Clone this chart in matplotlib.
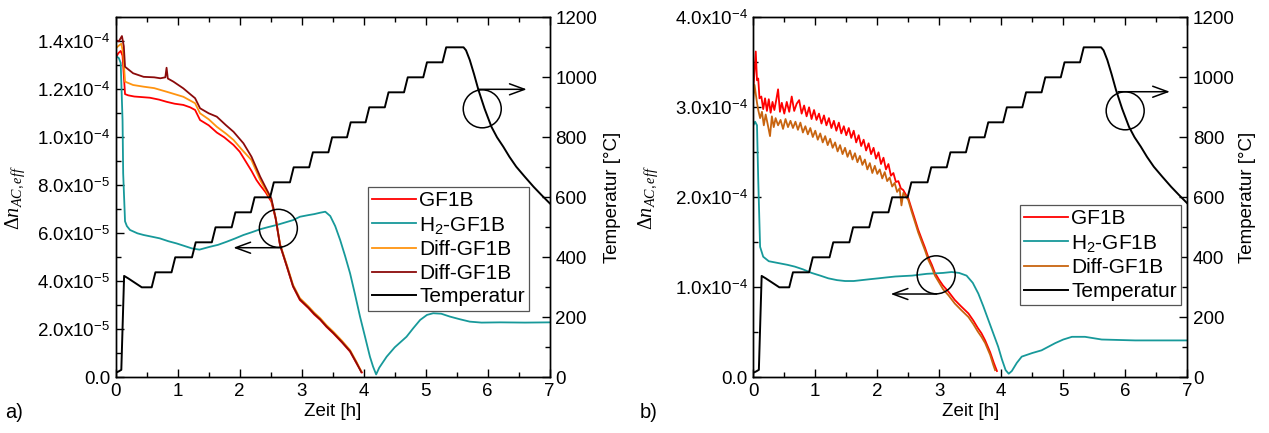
import matplotlib
matplotlib.use('Agg')
import matplotlib.pyplot as plt
from matplotlib.patches import Ellipse
from matplotlib.ticker import MultipleLocator, FixedLocator

plt.rcParams['font.family'] = ['Liberation Sans', 'DejaVu Sans']
plt.rcParams['mathtext.fontset'] = 'custom'
plt.rcParams['mathtext.rm'] = 'Liberation Sans'
plt.rcParams['mathtext.it'] = 'Liberation Serif:italic'
plt.rcParams['mathtext.bf'] = 'Liberation Sans:bold'

# ---------------- data ----------------
# temperature program (identical in both panels), hours / degC
temp_t = [0.00, 0.05, 0.09, 0.135, 0.20, 0.42, 0.58, 0.61, 0.64, 0.90, 0.93, 0.96,
          1.23, 1.26, 1.29, 1.55, 1.58, 1.61, 1.87, 1.90, 1.93, 2.18, 2.21, 2.24,
          2.49, 2.52, 2.55, 2.81, 2.84, 2.87, 3.12, 3.15, 3.18, 3.43, 3.46, 3.49,
          3.73, 3.76, 3.79, 4.03, 4.06, 4.09, 4.34, 4.37, 4.40, 4.65, 4.68, 4.71,
          4.96, 4.99, 5.02, 5.27, 5.30, 5.33, 5.61, 5.65, 5.71, 5.78, 5.85, 5.95,
          6.06, 6.15, 6.25, 6.35, 6.46, 6.60, 6.74, 6.87, 7.00]
temp_v = [15, 20, 25, 338, 330, 300, 300, 325, 350, 350, 375, 400,
          400, 425, 450, 450, 475, 500, 500, 525, 550, 550, 575, 600,
          600, 625, 650, 650, 675, 700, 700, 725, 750, 750, 775, 800,
          800, 825, 850, 850, 875, 900, 900, 925, 950, 950, 975, 1000,
          1000, 1025, 1050, 1050, 1075, 1100, 1100, 1090, 1058, 1010, 958, 895,
          835, 800, 769, 735, 702, 668, 635, 607, 580]

# panel a)
a_gf1b_t = [0.00, 0.04, 0.08, 0.11, 0.15, 0.20, 0.30, 0.45, 0.55, 0.70, 0.82, 0.95,
            1.09, 1.20, 1.28, 1.36, 1.50, 1.63, 1.75, 1.90, 2.00, 2.10, 2.19, 2.27,
            2.33, 2.42, 2.51, 2.58, 2.65, 2.76, 2.86, 2.97, 3.11, 3.20, 3.30, 3.40,
            3.51, 3.65, 3.78, 3.88, 3.97]
a_gf1b_n = [1.33e-4, 1.35e-4, 1.36e-4, 1.34e-4, 1.18e-4, 1.175e-4, 1.17e-4, 1.167e-4,
            1.165e-4, 1.157e-4, 1.148e-4, 1.14e-4, 1.135e-4, 1.125e-4, 1.114e-4, 1.072e-4,
            1.05e-4, 1.02e-4, 1.0e-4, 0.968e-4, 0.94e-4, 0.898e-4, 0.86e-4, 0.822e-4,
            0.80e-4, 0.77e-4, 0.732e-4, 0.66e-4, 0.55e-4, 0.461e-4, 0.378e-4, 0.322e-4,
            0.288e-4, 0.262e-4, 0.239e-4, 0.21e-4, 0.183e-4, 0.145e-4, 0.107e-4, 0.06e-4,
            0.02e-4]

a_h2_t = [0.00, 0.05, 0.08, 0.11, 0.12, 0.15, 0.18, 0.23, 0.35, 0.45, 0.60, 0.71,
          0.85, 0.98, 1.10, 1.23, 1.35, 1.52, 1.65, 1.79, 1.92, 2.06, 2.20, 2.33,
          2.46, 2.60, 2.73, 2.86, 2.97, 3.11, 3.20, 3.30, 3.38, 3.46, 3.54, 3.62,
          3.70, 3.78, 3.86, 3.94, 4.02, 4.10, 4.15, 4.20, 4.25, 4.37, 4.50, 4.69,
          4.80, 4.91, 5.02, 5.12, 5.25, 5.39, 5.55, 5.71, 5.90, 6.20, 6.60, 7.00]
a_h2_n = [1.34e-4, 1.33e-4, 1.31e-4, 1.07e-4, 0.85e-4, 0.65e-4, 0.63e-4, 0.614e-4,
          0.60e-4, 0.593e-4, 0.585e-4, 0.579e-4, 0.567e-4, 0.558e-4, 0.548e-4, 0.537e-4,
          0.532e-4, 0.544e-4, 0.552e-4, 0.565e-4, 0.578e-4, 0.593e-4, 0.605e-4, 0.617e-4,
          0.626e-4, 0.635e-4, 0.645e-4, 0.655e-4, 0.669e-4, 0.676e-4, 0.68e-4, 0.686e-4,
          0.69e-4, 0.672e-4, 0.63e-4, 0.572e-4, 0.505e-4, 0.433e-4, 0.345e-4, 0.253e-4,
          0.17e-4, 0.086e-4, 0.045e-4, 0.012e-4, 0.04e-4, 0.086e-4, 0.125e-4, 0.169e-4,
          0.205e-4, 0.239e-4, 0.26e-4, 0.267e-4, 0.265e-4, 0.253e-4, 0.242e-4, 0.232e-4,
          0.228e-4, 0.229e-4, 0.228e-4, 0.229e-4]

a_diff1_t = [0.00, 0.04, 0.09, 0.12, 0.15, 0.28, 0.45, 0.62, 0.82, 1.09, 1.28, 1.36,
             1.50, 1.63, 1.78, 1.90, 2.03, 2.19, 2.33, 2.42, 2.51, 2.58, 2.65, 2.76,
             2.86, 2.97, 3.11, 3.20, 3.30, 3.40, 3.51, 3.65, 3.78, 3.88, 3.96]
a_diff1_n = [1.37e-4, 1.38e-4, 1.39e-4, 1.35e-4, 1.232e-4, 1.218e-4, 1.211e-4, 1.205e-4,
             1.19e-4, 1.169e-4, 1.142e-4, 1.10e-4, 1.075e-4, 1.044e-4, 1.015e-4, 0.989e-4,
             0.95e-4, 0.905e-4, 0.822e-4, 0.78e-4, 0.739e-4, 0.665e-4, 0.555e-4, 0.468e-4,
             0.385e-4, 0.33e-4, 0.295e-4, 0.27e-4, 0.246e-4, 0.217e-4, 0.19e-4, 0.152e-4,
             0.113e-4, 0.066e-4, 0.025e-4]

a_diff2_t = [0.00, 0.05, 0.10, 0.13, 0.15, 0.28, 0.45, 0.62, 0.72, 0.80, 0.82, 0.84,
             0.93, 1.09, 1.20, 1.28, 1.36, 1.50, 1.63, 1.78, 1.90, 2.06, 2.19, 2.33,
             2.42, 2.51, 2.58, 2.65, 2.76, 2.86, 2.97, 3.11, 3.20, 3.30, 3.40, 3.51,
             3.65, 3.78, 3.88, 3.96]
a_diff2_n = [1.405e-4, 1.40e-4, 1.422e-4, 1.38e-4, 1.294e-4, 1.267e-4, 1.252e-4, 1.25e-4,
             1.246e-4, 1.25e-4, 1.29e-4, 1.245e-4, 1.232e-4, 1.204e-4, 1.18e-4, 1.163e-4,
             1.121e-4, 1.10e-4, 1.086e-4, 1.05e-4, 1.023e-4, 0.975e-4, 0.919e-4, 0.836e-4,
             0.79e-4, 0.745e-4, 0.662e-4, 0.552e-4, 0.463e-4, 0.38e-4, 0.325e-4, 0.29e-4,
             0.265e-4, 0.241e-4, 0.212e-4, 0.185e-4, 0.147e-4, 0.109e-4, 0.062e-4, 0.022e-4]

# panel b)
b_gf1b_t = [0.00, 0.02, 0.04, 0.06, 0.08, 0.10, 0.13, 0.16, 0.19, 0.22, 0.25, 0.28,
            0.31, 0.34, 0.37, 0.40, 0.43, 0.46, 0.50, 0.54, 0.58, 0.62, 0.66, 0.70,
            0.74, 0.78, 0.82, 0.86, 0.90, 0.94, 0.98, 1.02, 1.06, 1.10, 1.14, 1.18,
            1.22, 1.26, 1.30, 1.34, 1.38, 1.42, 1.46, 1.50, 1.54, 1.58, 1.62, 1.66,
            1.70, 1.74, 1.78, 1.82, 1.86, 1.90, 1.94, 1.98, 2.02, 2.06, 2.10, 2.14,
            2.18, 2.22, 2.26, 2.30, 2.34, 2.38, 2.42, 2.46, 2.50, 2.55, 2.61, 2.66,
            2.72, 2.77, 2.82, 2.88, 2.93, 3.00, 3.06, 3.15, 3.25, 3.35, 3.47, 3.55,
            3.62, 3.68, 3.74, 3.82, 3.88, 3.93]
b_gf1b_n = [3.20e-4, 3.40e-4, 3.62e-4, 3.30e-4, 3.32e-4, 3.10e-4, 3.12e-4, 2.98e-4,
            3.10e-4, 2.96e-4, 3.09e-4, 2.94e-4, 3.06e-4, 2.97e-4, 3.08e-4, 3.20e-4,
            2.95e-4, 3.05e-4, 2.93e-4, 3.06e-4, 2.95e-4, 3.12e-4, 2.96e-4, 3.04e-4,
            3.08e-4, 2.93e-4, 3.02e-4, 2.90e-4, 3.00e-4, 2.87e-4, 2.97e-4, 2.86e-4,
            2.93e-4, 2.82e-4, 2.91e-4, 2.80e-4, 2.88e-4, 2.77e-4, 2.85e-4, 2.74e-4,
            2.83e-4, 2.71e-4, 2.79e-4, 2.69e-4, 2.77e-4, 2.66e-4, 2.74e-4, 2.61e-4,
            2.69e-4, 2.57e-4, 2.64e-4, 2.52e-4, 2.60e-4, 2.48e-4, 2.55e-4, 2.43e-4,
            2.50e-4, 2.37e-4, 2.44e-4, 2.31e-4, 2.37e-4, 2.24e-4, 2.27e-4, 2.17e-4,
            2.18e-4, 2.10e-4, 2.08e-4, 2.03e-4, 1.99e-4, 1.88e-4, 1.75e-4, 1.64e-4,
            1.53e-4, 1.44e-4, 1.34e-4, 1.25e-4, 1.16e-4, 1.08e-4, 1.02e-4, 0.95e-4,
            0.86e-4, 0.79e-4, 0.71e-4, 0.63e-4, 0.55e-4, 0.49e-4, 0.41e-4, 0.28e-4,
            0.16e-4, 0.07e-4]

b_h2_t = [0.00, 0.03, 0.06, 0.08, 0.11, 0.16, 0.25, 0.40, 0.55, 0.67, 0.80, 0.94,
          1.08, 1.21, 1.35, 1.48, 1.62, 1.75, 1.88, 2.02, 2.15, 2.29, 2.42, 2.56,
          2.80, 3.06, 3.20, 3.32, 3.44, 3.54, 3.63, 3.71, 3.79, 3.87, 3.95, 4.01,
          4.07, 4.12, 4.17, 4.25, 4.33, 4.50, 4.65, 4.87, 5.00, 5.14, 5.35, 5.62,
          6.16, 6.60, 7.00]
b_h2_n = [2.80e-4, 2.84e-4, 2.80e-4, 2.19e-4, 1.45e-4, 1.34e-4, 1.29e-4, 1.27e-4,
          1.25e-4, 1.23e-4, 1.20e-4, 1.16e-4, 1.13e-4, 1.10e-4, 1.08e-4, 1.07e-4,
          1.07e-4, 1.08e-4, 1.09e-4, 1.10e-4, 1.11e-4, 1.12e-4, 1.125e-4, 1.13e-4,
          1.15e-4, 1.16e-4, 1.17e-4, 1.16e-4, 1.13e-4, 1.05e-4, 0.93e-4, 0.79e-4,
          0.64e-4, 0.49e-4, 0.34e-4, 0.20e-4, 0.08e-4, 0.04e-4, 0.07e-4, 0.16e-4,
          0.23e-4, 0.27e-4, 0.30e-4, 0.38e-4, 0.42e-4, 0.45e-4, 0.45e-4, 0.42e-4,
          0.41e-4, 0.41e-4, 0.41e-4]

b_diff_t = [0.00, 0.02, 0.04, 0.06, 0.08, 0.11, 0.14, 0.17, 0.20, 0.23, 0.27, 0.30,
            0.33, 0.36, 0.40, 0.44, 0.48, 0.52, 0.56, 0.60, 0.64, 0.68, 0.72, 0.76,
            0.80, 0.84, 0.88, 0.92, 0.96, 1.00, 1.04, 1.08, 1.12, 1.16, 1.20, 1.24,
            1.28, 1.32, 1.36, 1.40, 1.44, 1.48, 1.52, 1.56, 1.60, 1.64, 1.68, 1.72,
            1.76, 1.80, 1.84, 1.88, 1.92, 1.96, 2.00, 2.04, 2.08, 2.12, 2.16, 2.20,
            2.24, 2.28, 2.32, 2.36, 2.39, 2.42, 2.46, 2.50, 2.55, 2.61, 2.66, 2.72,
            2.77, 2.82, 2.88, 2.93, 3.00, 3.06, 3.15, 3.25, 3.35, 3.47, 3.55, 3.62,
            3.68, 3.74, 3.82, 3.87, 3.90]
b_diff_n = [3.10e-4, 3.25e-4, 3.15e-4, 3.05e-4, 2.97e-4, 2.88e-4, 2.95e-4, 2.80e-4,
            2.92e-4, 2.82e-4, 2.68e-4, 2.90e-4, 2.78e-4, 2.88e-4, 2.80e-4, 2.86e-4,
            2.76e-4, 2.87e-4, 2.78e-4, 2.85e-4, 2.77e-4, 2.84e-4, 2.75e-4, 2.83e-4,
            2.72e-4, 2.79e-4, 2.70e-4, 2.77e-4, 2.67e-4, 2.74e-4, 2.64e-4, 2.71e-4,
            2.61e-4, 2.68e-4, 2.58e-4, 2.65e-4, 2.55e-4, 2.61e-4, 2.51e-4, 2.58e-4,
            2.48e-4, 2.55e-4, 2.45e-4, 2.52e-4, 2.42e-4, 2.49e-4, 2.39e-4, 2.46e-4,
            2.36e-4, 2.42e-4, 2.31e-4, 2.38e-4, 2.27e-4, 2.35e-4, 2.26e-4, 2.31e-4,
            2.21e-4, 2.28e-4, 2.18e-4, 2.22e-4, 2.12e-4, 2.16e-4, 2.06e-4, 2.10e-4,
            1.91e-4, 2.05e-4, 2.01e-4, 1.97e-4, 1.85e-4, 1.72e-4, 1.61e-4, 1.50e-4,
            1.41e-4, 1.31e-4, 1.22e-4, 1.13e-4, 1.05e-4, 0.98e-4, 0.91e-4, 0.82e-4,
            0.75e-4, 0.67e-4, 0.59e-4, 0.51e-4, 0.45e-4, 0.38e-4, 0.25e-4, 0.14e-4,
            0.08e-4]

a_ytick_vals = [0.0, 2.0e-5, 4.0e-5, 6.0e-5, 8.0e-5, 1.0e-4, 1.2e-4, 1.4e-4]
a_ytick_labels = ['0.0', '2.0x10$^{-5}$', '4.0x10$^{-5}$', '6.0x10$^{-5}$',
                  '8.0x10$^{-5}$', '1.0x10$^{-4}$', '1.2x10$^{-4}$', '1.4x10$^{-4}$']
b_ytick_vals = [0.0, 1.0e-4, 2.0e-4, 3.0e-4, 4.0e-4]
b_ytick_labels = ['0.0', '1.0x10$^{-4}$', '2.0x10$^{-4}$', '3.0x10$^{-4}$', '4.0x10$^{-4}$']

c_red = '#ff0000'
c_teal = '#17999a'
c_orange = '#ff9410'
c_darkred = '#8b0a0a'
c_brown = '#c8640f'

FS = 13.5
LFS = 15

fig = plt.figure(figsize=(12.69, 4.33), dpi=100)


def style(ax, tax, yvals, ylabels, ymax, yminor):
    ax.set_xlim(0, 7)
    ax.set_ylim(0, ymax)
    tax.set_ylim(0, 1200)
    ax.xaxis.set_major_locator(MultipleLocator(1))
    ax.xaxis.set_minor_locator(MultipleLocator(0.5))
    ax.yaxis.set_major_locator(FixedLocator(yvals))
    ax.set_yticklabels(ylabels)
    ax.yaxis.set_minor_locator(MultipleLocator(yminor))
    tax.yaxis.set_major_locator(MultipleLocator(200))
    tax.yaxis.set_minor_locator(MultipleLocator(100))
    ax.tick_params(which='both', direction='in', top=True, right=False,
                   labelsize=FS, pad=4, width=1.0)
    ax.tick_params(which='major', length=6)
    ax.tick_params(which='minor', length=3.5)
    tax.tick_params(which='both', direction='in', labelsize=FS, pad=4, width=1.0)
    tax.tick_params(which='major', length=6)
    tax.tick_params(which='minor', length=3.5)
    for sp in list(ax.spines.values()) + list(tax.spines.values()):
        sp.set_linewidth(1.0)
    ax.set_xlabel('Zeit [h]', fontsize=FS)
    ax.xaxis.set_label_coords(0.5, -0.072)
    ax.set_ylabel('Δ$n_{AC,eff}$', fontsize=14.5, family=['Liberation Serif'])
    tax.set_ylabel('Temperatur [°C]', fontsize=FS)


def circle_arrow(ax, cx, cy, ax0, ax1, ay):
    w = 38.0 / 434.0
    h = 38.0 / 360.0
    ax.add_patch(Ellipse((cx, cy), w, h, transform=ax.transAxes, fill=False,
                         edgecolor='black', lw=1.1, zorder=6))
    ax.annotate('', xy=(ax1, ay), xytext=(ax0, ay), xycoords='axes fraction',
                textcoords='axes fraction',
                arrowprops=dict(arrowstyle='->,head_length=0.6,head_width=0.22',
                                lw=1.1, color='black', shrinkA=0, shrinkB=0,
                                mutation_scale=18), zorder=6)


def add_legend(tax, handles, x0, y0):
    leg = tax.legend(handles=handles, loc='upper left',
                     bbox_to_anchor=(x0, y0), fontsize=LFS, frameon=True,
                     fancybox=False, edgecolor='#555555', framealpha=1,
                     handlelength=2.1, handletextpad=0.15, labelspacing=0.22,
                     borderpad=0.2, borderaxespad=0)
    leg.get_frame().set_linewidth(0.9)


# ---------- panel a ----------
axA = fig.add_axes([0.0912, 0.1286, 0.342, 0.8314])
taxA = axA.twinx()
h1, = axA.plot(a_gf1b_t, a_gf1b_n, color=c_red, lw=1.3, label='GF1B')
h2, = axA.plot(a_h2_t, a_h2_n, color=c_teal, lw=1.3, label='H$_2$-GF1B')
h3, = axA.plot(a_diff1_t, a_diff1_n, color=c_orange, lw=1.3, label='Diff-GF1B')
h4, = axA.plot(a_diff2_t, a_diff2_n, color=c_darkred, lw=1.3, label='Diff-GF1B')
h5, = taxA.plot(temp_t, temp_v, color='black', lw=1.4, label='Temperatur')
style(axA, taxA, a_ytick_vals, a_ytick_labels, 1.5e-4, 1.0e-5)
axA.yaxis.set_label_coords(-0.205, 0.5)
taxA.yaxis.set_label_coords(1.125, 0.5)
add_legend(taxA, [h1, h2, h3, h4, h5], 0.582, 0.529)
circle_arrow(taxA, 0.3747, 0.4139, 0.3825, 0.271, 0.36)
circle_arrow(taxA, 0.8445, 0.7458, 0.8355, 0.947, 0.80)

# ---------- panel b ----------
axB = fig.add_axes([0.5936, 0.1286, 0.342, 0.8314])
taxB = axB.twinx()
g1, = axB.plot(b_gf1b_t, b_gf1b_n, color=c_red, lw=1.3, label='GF1B')
g2, = axB.plot(b_h2_t, b_h2_n, color=c_teal, lw=1.3, label='H$_2$-GF1B')
g3, = axB.plot(b_diff_t, b_diff_n, color=c_brown, lw=1.3, label='Diff-GF1B')
g4, = taxB.plot(temp_t, temp_v, color='black', lw=1.4, label='Temperatur')
style(axB, taxB, b_ytick_vals, b_ytick_labels, 4.0e-4, 0.5e-4)
axB.yaxis.set_label_coords(-0.215, 0.5)
taxB.yaxis.set_label_coords(1.12, 0.5)
add_legend(taxB, [g1, g2, g3, g4], 0.6145, 0.4786)
circle_arrow(taxB, 0.4214, 0.2847, 0.4226, 0.3166, 0.2314)
circle_arrow(taxB, 0.8569, 0.7403, 0.841, 0.960, 0.7933)

fig.text(0.004, 0.035, 'a)', fontsize=FS + 1)
fig.text(0.504, 0.035, 'b)', fontsize=FS + 1)

fig.savefig('out.png', dpi=100)
